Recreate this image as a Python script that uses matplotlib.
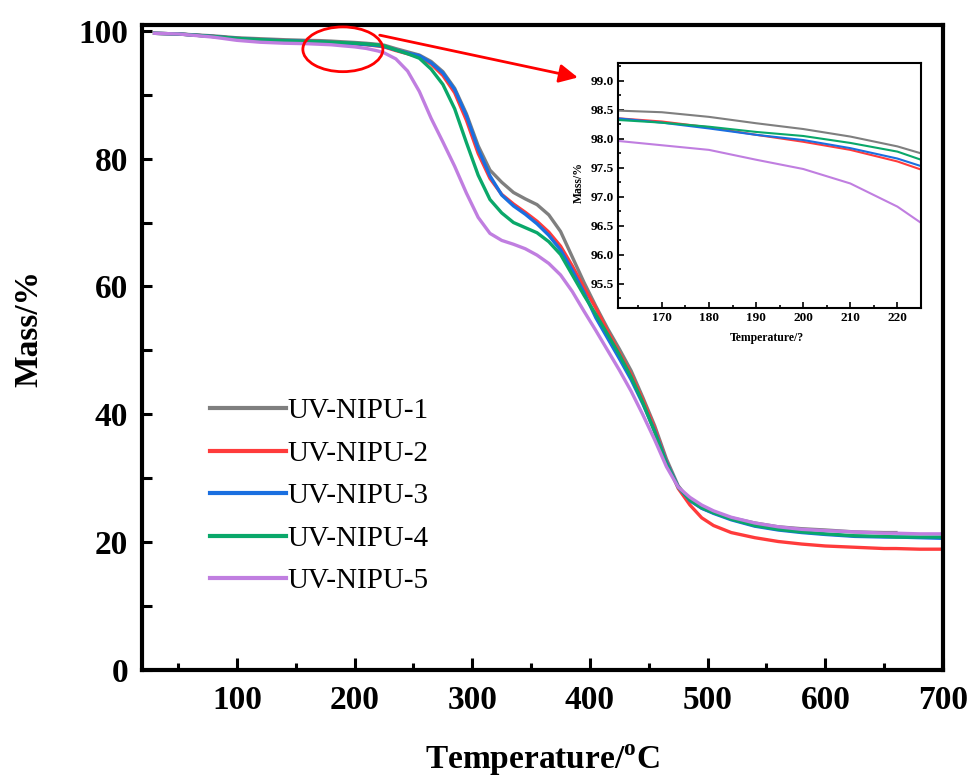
import numpy as np
import matplotlib
matplotlib.use("Agg")
import matplotlib.pyplot as plt
from matplotlib.patches import Ellipse
from matplotlib.ticker import MultipleLocator, FormatStrFormatter

plt.rcParams['font.family'] = ['Liberation Serif', 'DejaVu Serif']
plt.rcParams['mathtext.fontset'] = 'custom'
plt.rcParams['mathtext.rm'] = 'Liberation Serif:bold'

# temperature grid (°C) shared by all samples
temp = [30, 50, 80, 100, 120, 140, 160, 170, 180, 190, 200, 210, 220, 225,
        235, 245, 255, 265, 275, 285, 295, 305, 315, 325, 335, 345, 355, 365,
        375, 385, 395, 405, 415, 425, 435, 445, 455, 465, 475, 485, 495, 505,
        520, 540, 560, 580, 600, 625, 650, 660, 680, 700]

nipu1 = [99.6, 99.5, 99.2, 98.9, 98.75, 98.6, 98.49, 98.46, 98.38, 98.27, 98.17, 98.04, 97.87, 97.75,
         97.2, 96.7, 96.2, 95.2, 93.6, 91.0, 87.0, 82.0, 78.2, 76.3, 74.7, 73.7, 72.8, 71.2,
         68.6, 64.6, 60.6, 56.9, 53.4, 50.2, 46.8, 42.6, 38.2, 33.0, 28.8, 26.5, 25.3, 24.6,
         23.8, 23.0, 22.4, 22.1, 21.9, 21.6, 21.5, 21.5, np.nan, np.nan]
nipu2 = [99.6, 99.5, 99.1, 98.8, 98.6, 98.45, 98.36, 98.30, 98.20, 98.07, 97.95, 97.81, 97.61, 97.47,
         96.9, 96.4, 95.9, 94.8, 93.0, 90.3, 86.0, 80.8, 76.9, 74.4, 72.9, 71.6, 70.2, 68.5,
         66.3, 63.2, 59.8, 56.6, 53.0, 49.6, 46.2, 42.2, 37.8, 32.6, 28.4, 25.8, 23.8, 22.6,
         21.5, 20.7, 20.1, 19.7, 19.4, 19.2, 19.0, 19.0, 18.9, 18.9]
nipu3 = [99.6, 99.5, 99.1, 98.8, 98.6, 98.45, 98.36, 98.28, 98.18, 98.07, 97.98, 97.84, 97.66, 97.53,
         97.0, 96.5, 96.1, 95.0, 93.4, 90.8, 86.7, 81.5, 77.3, 74.3, 72.6, 71.3, 69.8, 68.0,
         65.7, 62.5, 59.0, 55.1, 51.9, 48.7, 45.4, 41.6, 37.4, 32.5, 28.6, 26.5, 25.3, 24.5,
         23.5, 22.5, 21.9, 21.5, 21.2, 20.9, 20.8, 20.8, 20.7, 20.6]
nipu4 = [99.6, 99.5, 99.1, 98.8, 98.6, 98.43, 98.33, 98.28, 98.21, 98.12, 98.05, 97.93, 97.78, 97.64,
         97.0, 96.4, 95.7, 94.0, 91.6, 87.8, 82.5, 77.4, 73.6, 71.5, 70.0, 69.2, 68.4, 67.0,
         65.0, 61.8, 58.6, 55.6, 52.5, 49.3, 45.8, 41.8, 37.2, 32.3, 28.6, 26.6, 25.4, 24.6,
         23.6, 22.6, 22.0, 21.6, 21.3, 21.0, 20.9, 20.8, 20.8, 20.8]
nipu5 = [99.6, 99.5, 99.0, 98.5, 98.2, 98.05, 97.97, 97.89, 97.81, 97.64, 97.48, 97.23, 96.83, 96.55,
         95.6, 93.7, 90.5, 86.3, 82.6, 78.8, 74.6, 70.8, 68.3, 67.2, 66.6, 65.9, 64.9, 63.6,
         61.8, 59.2, 56.1, 53.1, 50.0, 46.9, 43.6, 39.9, 36.0, 31.8, 28.6, 27.0, 25.8, 24.9,
         23.9, 23.0, 22.4, 22.0, 21.8, 21.6, 21.4, 21.4, 21.3, 21.3]

labels = ['UV-NIPU-1', 'UV-NIPU-2', 'UV-NIPU-3', 'UV-NIPU-4', 'UV-NIPU-5']
colors = ['#7f7f7f', '#ff3b3b', '#1a6fe0', '#0aa86a', '#c07ee0']
series = [nipu1, nipu2, nipu3, nipu4, nipu5]

fig = plt.figure(figsize=(9.72, 7.78), dpi=100)
ax = fig.add_axes([142/972, 1-670/778, 801/972, 645/778])

for m, c, lab in zip(series, colors, labels):
    ax.plot(temp, m, color=c, lw=2.4, label=lab)

ax.set_xlim(19.3, 700)
ax.set_ylim(0, 100.9)
ax.xaxis.set_major_locator(MultipleLocator(100))
ax.xaxis.set_minor_locator(MultipleLocator(50))
ax.yaxis.set_major_locator(MultipleLocator(20))
ax.yaxis.set_minor_locator(MultipleLocator(10))
ax.tick_params(which='both', direction='in', top=False, right=False, width=2.2)
ax.tick_params(axis='x', which='major', length=9, pad=11, labelsize=24)
ax.tick_params(axis='x', which='minor', length=5)
ax.tick_params(axis='y', which='both', length=7, pad=10, labelsize=24)
for lbl in ax.get_xticklabels() + ax.get_yticklabels():
    lbl.set_fontweight('bold')
for s in ax.spines.values():
    s.set_linewidth(3)

ax.set_xlabel('Temperature/$^{\\rm o}$C', fontsize=24, fontweight='bold')
ax.set_ylabel('Mass/%', fontsize=24, fontweight='bold')
ax.xaxis.set_label_coords(0.5, -0.113)
ax.yaxis.set_label_coords(-0.122, 0.53)

leg = ax.legend(loc='upper left', bbox_to_anchor=(210/972, 1-398/778),
                bbox_transform=fig.transFigure, frameon=False, fontsize=21,
                handlelength=2.6, handletextpad=0.05, labelspacing=0.55,
                borderpad=0, borderaxespad=0)
for h in leg.get_lines():
    h.set_linewidth(3)

ax.add_patch(Ellipse((190, 97.1), 68, 7.0, fill=False, edgecolor='red', lw=2, zorder=5))
ax.annotate('', xy=(392, 92.6), xytext=(219, 99.4),
            arrowprops=dict(arrowstyle='-|>', color='red', lw=2, mutation_scale=28),
            zorder=5)

# zoomed inset
ins = fig.add_axes([618/972, 1-308/778, 303/972, 245/778])
for m, c in zip(series, colors):
    ins.plot(temp, m, color=c, lw=1.5)
ins.set_xlim(160.7, 225)
ins.set_ylim(95.08, 99.31)
ins.xaxis.set_major_locator(MultipleLocator(10))
ins.xaxis.set_minor_locator(MultipleLocator(5))
ins.yaxis.set_major_locator(MultipleLocator(0.5))
ins.yaxis.set_minor_locator(MultipleLocator(0.25))
ins.yaxis.set_major_formatter(FormatStrFormatter('%.1f'))
ins.tick_params(which='both', direction='in', top=False, right=False, width=1.2,
                labelsize=9.5, pad=3)
ins.tick_params(which='major', length=4)
ins.tick_params(which='minor', length=2)
for lbl in ins.get_xticklabels() + ins.get_yticklabels():
    lbl.set_fontweight('bold')
for s in ins.spines.values():
    s.set_linewidth(1.5)
ins.set_xlabel('Temperature/?', fontsize=8.5, fontweight='bold')
ins.set_ylabel('Mass/%', fontsize=8.5, fontweight='bold')
ins.xaxis.set_label_coords(0.49, -0.1)
ins.yaxis.set_label_coords(-0.11, 0.514)

fig.savefig('out.png', dpi=100)
